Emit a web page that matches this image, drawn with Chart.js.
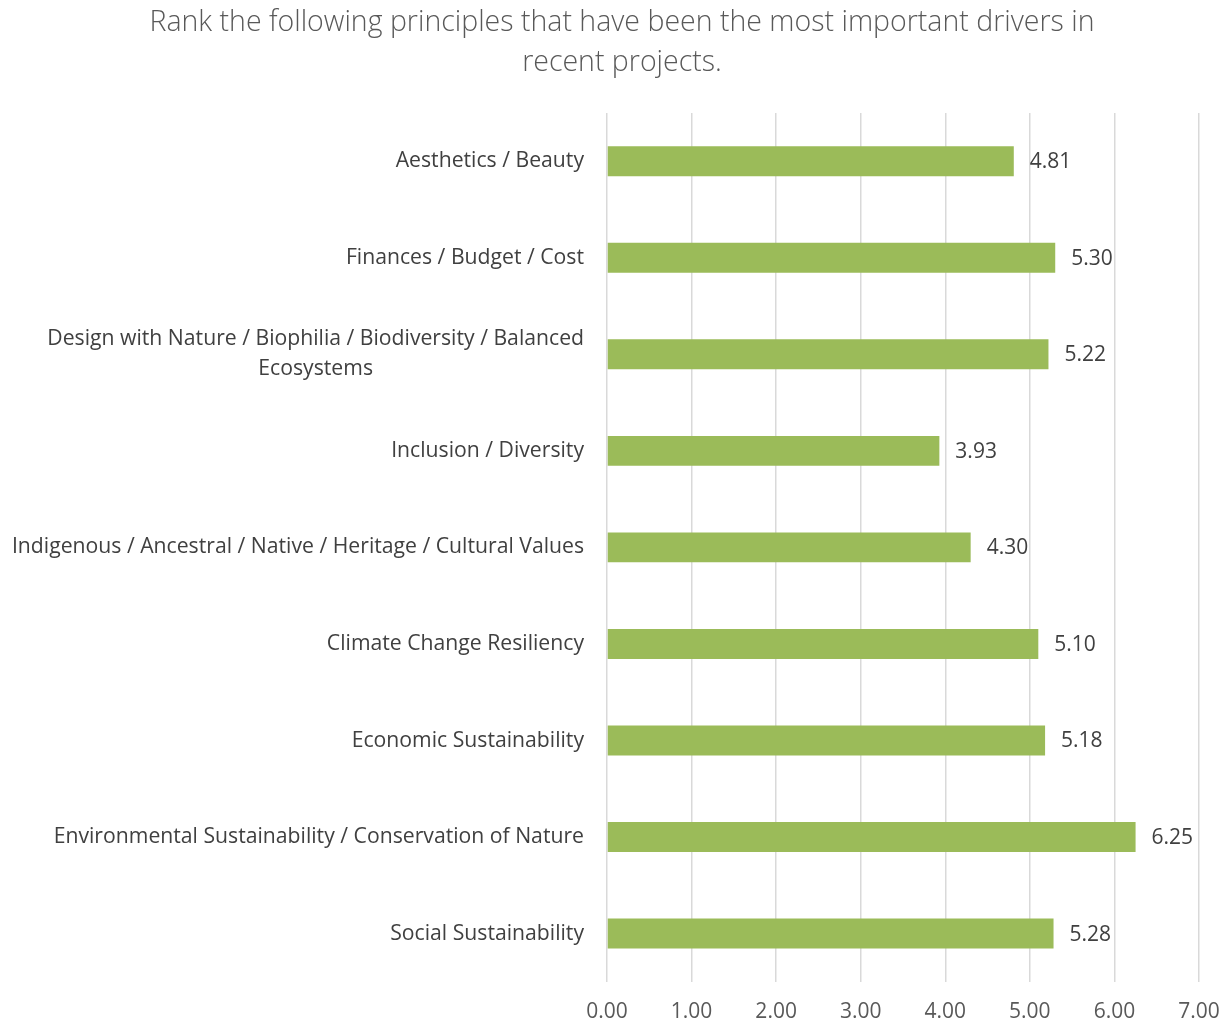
<!DOCTYPE html>
<html>
<head>
<meta charset="utf-8">
<script src="https://cdn.jsdelivr.net/npm/chart.js@4/dist/chart.umd.min.js"></script>
<style>
html,body{margin:0;padding:0;background:#fff;}
#wrap{width:1227px;height:1023px;position:relative;}
</style>
</head>
<body>
<div id="wrap"><canvas id="c" width="1227" height="1023"></canvas></div>
<script>
const categories = [
  "Aesthetics / Beauty",
  "Finances / Budget / Cost",
  ["Design with Nature / Biophilia / Biodiversity / Balanced", "Ecosystems"],
  "Inclusion / Diversity",
  "Indigenous / Ancestral / Native / Heritage / Cultural Values",
  "Climate Change Resiliency",
  "Economic Sustainability",
  "Environmental Sustainability / Conservation of Nature",
  "Social Sustainability"
];
const values = [4.81, 5.30, 5.22, 3.93, 4.30, 5.10, 5.18, 6.25, 5.28];
const titleLines = ["Rank the following principles that have been the most important drivers in", "recent projects."];
const axisMin = 0, axisMax = 7, axisStep = 1;

const FONT = "'Open Sans', sans-serif";

const textPlugin = {
  id: 'textPlugin',
  afterDraw(chart) {
    const ctx = chart.ctx;
    ctx.save();
    // title
    ctx.font = "300 28.5px " + FONT;
    ctx.fillStyle = '#595959';
    ctx.textAlign = 'center';
    ctx.textBaseline = 'middle';
    ctx.fillText(titleLines[0], 622, 23);
    ctx.fillText(titleLines[1], 622, 63);
    // category labels
    const ys = chart.scales.y;
    const right = chart.chartArea.left - 23;
    ctx.font = "21.2px " + FONT;
    ctx.fillStyle = '#404040';
    categories.forEach((lab, i) => {
      const lines = Array.isArray(lab) ? lab : [lab];
      const cy = ys.getPixelForValue(i);
      const lh = 30;
      const maxW = Math.max(...lines.map(l => ctx.measureText(l).width));
      const cx = right - maxW / 2;
      lines.forEach((l, k) => {
        const y = cy + (k - (lines.length - 1) / 2) * lh;
        ctx.textAlign = 'center';
        ctx.fillText(l, cx, y);
      });
    });
    ctx.restore();
  },
  afterDatasetsDraw(chart) {
    const ctx = chart.ctx;
    const meta = chart.getDatasetMeta(0);
    ctx.save();
    ctx.font = "21px " + FONT;
    ctx.fillStyle = '#404040';
    ctx.textAlign = 'left';
    ctx.textBaseline = 'middle';
    meta.data.forEach((bar, i) => {
      ctx.fillText(values[i].toFixed(2), bar.x + 16, bar.y + 1);
    });
    ctx.restore();
  }
};

new Chart(document.getElementById('c'), {
  type: 'bar',
  data: {
    labels: categories,
    datasets: [{
      data: values,
      backgroundColor: '#9BBB59',
      borderWidth: 0,
      categoryPercentage: 1,
      barPercentage: 0.31
    }]
  },
  options: {
    indexAxis: 'y',
    responsive: false,
    animation: false,
    devicePixelRatio: 1,
    layout: { padding: { left: 10, right: 28, top: 113, bottom: -20 } },
    plugins: {
      legend: { display: false },
      tooltip: { enabled: false },
      title: { display: false }
    },
    scales: {
      x: {
        min: axisMin, max: axisMax,
        afterFit(scale) { scale.paddingRight = 0; scale.paddingLeft = 0; },
        ticks: {
          stepSize: axisStep,
          callback: v => Number(v).toFixed(2),
          color: '#595959',
          font: { family: FONT, size: 21, lineHeight: 1.2 },
          padding: 18
        },
        grid: { color: '#d9d9d9', lineWidth: 1.5, drawTicks: false },
        border: { display: false }
      },
      y: {
        afterFit(scale) { scale.width = 597; },
        ticks: { display: false },
        grid: { display: false, drawTicks: false },
        border: { display: false }
      }
    }
  },
  plugins: [textPlugin]
});
</script>
</body>
</html>
